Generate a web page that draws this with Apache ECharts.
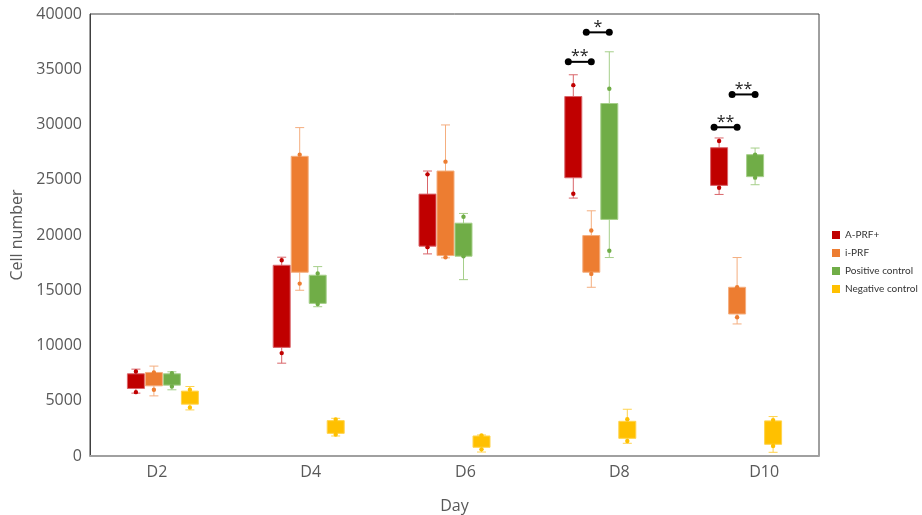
<!DOCTYPE html>
<html>
<head>
<meta charset="utf-8">
<script src="https://cdn.jsdelivr.net/npm/echarts@6/dist/echarts.min.js"></script>
<style>html,body{margin:0;padding:0;background:#fff;}#chart{width:922px;height:515px;}</style>
</head>
<body>
<div id="chart"></div>
<script>
const categories = ['D2', 'D4', 'D6', 'D8', 'D10'];
const seriesNames = ['A-PRF+', 'i-PRF', 'Positive control', 'Negative control'];
const yTicks = [0, 5000, 10000, 15000, 20000, 25000, 30000, 35000, 40000];
// each row: [min, q1, q3, max]
const aprfBox = [[5690, 6110, 7440, 7860], [8400, 9830, 17260, 17990], [18290, 18990, 23700, 25790], [23340, 25180, 32530, 34500], [23670, 24490, 27900, 28780]];
const iprfBox = [[5440, 6350, 7560, 8135], [15000, 16630, 27120, 29720], [17930, 18140, 25790, 29960], [15270, 16630, 19950, 22190], [11950, 12850, 15270, 17960]];
const posBox = [[5990, 6410, 7440, 7620], [13510, 13810, 16360, 17140], [15960, 18080, 21070, 21950], [17960, 21410, 31900, 36580], [24550, 25280, 27270, 27870]];
const negBox = [[4170, 4690, 5870, 6290], [1810, 2050, 3200, 3410], [360, 790, 1810, 1900], [1150, 1600, 3140, 4230], [335, 1060, 3175, 3570]];
// marked individual points: [low, high]
const aprfDots = [[5780, 7650], [9310, 17720], [18900, 25490], [23730, 33560], [24280, 28510]];
const iprfDots = [[5990, 7560], [15600, 27270], [17990, 26640], [16480, 20410], [12550, 15270]];
const posDots = [[6290, 7500], [13760, 16510], [18080, 21650], [18570, 33230], [25190, 27270]];
const negDots = [[4400, 6000], [1950, 3300], [600, 1850], [1360, 3330], [910, 3250]];
// significance: [category index, y value, from series, to series]
const sigPos = [[3, 35670, 0, 1], [3, 38340, 1, 2], [4, 29750, 0, 1], [4, 32720, 1, 2]];
const sigText = ['**', '*', '**', '**'];

const boxes = [aprfBox, iprfBox, posBox, negBox];
const dots = [aprfDots, iprfDots, posDots, negDots];
const colors = ['#C00000', '#ED7D31', '#70AD47', '#FFC000'];
const lightColors = ['#D9656A', '#F4AE7F', '#A6CF8A', '#FFD34D'];
const offsets = [-27, -9, 9, 27];
const FONT = '"Open Sans", sans-serif';

function boxRender(si) {
  return function (params, api) {
    const c = api.value(0);
    const pMin = api.coord([c, api.value(1)]);
    const pQ1 = api.coord([c, api.value(2)]);
    const pQ3 = api.coord([c, api.value(3)]);
    const pMax = api.coord([c, api.value(4)]);
    const pD1 = api.coord([c, api.value(5)]);
    const pD2 = api.coord([c, api.value(6)]);
    const x = pMin[0] + offsets[si];
    const hw = 8.5, cap = 4.5;
    const lc = lightColors[si], col = colors[si];
    const ls = { stroke: lc, lineWidth: 1 };
    return {
      type: 'group',
      children: [
        { type: 'line', shape: { x1: x, y1: pMax[1], x2: x, y2: pMin[1] }, style: ls },
        { type: 'line', shape: { x1: x - cap, y1: pMax[1], x2: x + cap, y2: pMax[1] }, style: ls },
        { type: 'line', shape: { x1: x - cap, y1: pMin[1], x2: x + cap, y2: pMin[1] }, style: ls },
        { type: 'rect', shape: { x: x - hw, y: pQ3[1], width: hw * 2, height: pQ1[1] - pQ3[1] }, style: { fill: col, stroke: lc, lineWidth: 1 } },
        { type: 'circle', shape: { cx: x, cy: pD1[1], r: 2.2 }, style: { fill: col } },
        { type: 'circle', shape: { cx: x, cy: pD2[1], r: 2.2 }, style: { fill: col } }
      ]
    };
  };
}

const series = seriesNames.map(function (name, si) {
  return {
    name: name,
    type: 'custom',
    itemStyle: { color: colors[si] },
    renderItem: boxRender(si),
    encode: { x: 0, y: [1, 2, 3, 4, 5, 6] },
    data: categories.map(function (cat, ci) {
      return [ci].concat(boxes[si][ci], dots[si][ci]);
    }),
    z: 3
  };
});

series.push({
  type: 'custom',
  name: 'sig',
  renderItem: function (params, api) {
    const c = api.value(0);
    const p = api.coord([c, api.value(1)]);
    const x1 = p[0] + offsets[api.value(2)] - 5;
    const x2 = p[0] + offsets[api.value(3)];
    const y = p[1];
    return {
      type: 'group',
      children: [
        { type: 'line', shape: { x1: x1, y1: y, x2: x2, y2: y }, style: { stroke: '#000', lineWidth: 2 } },
        { type: 'circle', shape: { cx: x1, cy: y, r: 3.5 }, style: { fill: '#000' } },
        { type: 'circle', shape: { cx: x2, cy: y, r: 3.5 }, style: { fill: '#000' } },
        { type: 'text', style: { text: sigText[params.dataIndex], x: (x1 + x2) / 2, y: y - 5, align: 'center', verticalAlign: 'middle', fill: '#222', font: '16px ' + FONT } }
      ]
    };
  },
  encode: { x: 0, y: 1 },
  data: sigPos,
  z: 4
});

const chart = echarts.init(document.getElementById('chart'), null, { renderer: 'canvas' });
chart.setOption({
  animation: false,
  backgroundColor: '#fff',
  grid: { left: 90, right: 103, top: 14, bottom: 59, show: true, borderColor: '#404040', borderWidth: 1, containLabel: false, outerBoundsMode: 'none' },
  legend: {
    data: seriesNames,
    orient: 'vertical',
    left: 832,
    top: 230,
    padding: 0,
    icon: 'rect',
    itemWidth: 8,
    itemHeight: 8,
    itemGap: 8,
    textStyle: { fontSize: 10, color: '#333', fontFamily: 'Lato, sans-serif' }
  },
  xAxis: {
    type: 'category',
    data: categories,
    name: 'Day',
    nameLocation: 'middle',
    nameGap: 42,
    nameTextStyle: { fontSize: 16, color: '#595959', fontFamily: FONT },
    axisLine: { show: true, lineStyle: { color: '#A0A0A0', width: 2 } },
    axisTick: { show: false },
    axisLabel: {
      fontSize: 16, color: '#595959', fontFamily: FONT, margin: 8,
      formatter: function (v, i) { return '{s' + i + '|' + v + '}'; },
      rich: {
        s0: { fontSize: 16, color: '#595959', fontFamily: FONT, padding: [0, 12, 0, 0] },
        s1: { fontSize: 16, color: '#595959', fontFamily: FONT, padding: [0, 0, 0, 4] },
        s2: { fontSize: 16, color: '#595959', fontFamily: FONT, padding: [0, 0, 0, 22] },
        s3: { fontSize: 16, color: '#595959', fontFamily: FONT, padding: [0, 0, 0, 38] },
        s4: { fontSize: 16, color: '#595959', fontFamily: FONT, padding: [0, 0, 0, 36] }
      }
    },
    splitLine: { show: false }
  },
  yAxis: {
    type: 'value',
    min: yTicks[0],
    max: yTicks[yTicks.length - 1],
    interval: yTicks[1] - yTicks[0],
    name: 'Cell number',
    nameLocation: 'middle',
    nameGap: 54,
    nameTextStyle: { fontSize: 16, color: '#595959', fontFamily: FONT },
    axisLine: { show: true, lineStyle: { color: '#404040', width: 1 } },
    axisTick: { show: false },
    axisLabel: { fontSize: 16, color: '#595959', fontFamily: FONT, margin: 8, formatter: function (v) { return String(v); } },
    splitLine: { show: false }
  },
  series: series
});
</script>
</body>
</html>
